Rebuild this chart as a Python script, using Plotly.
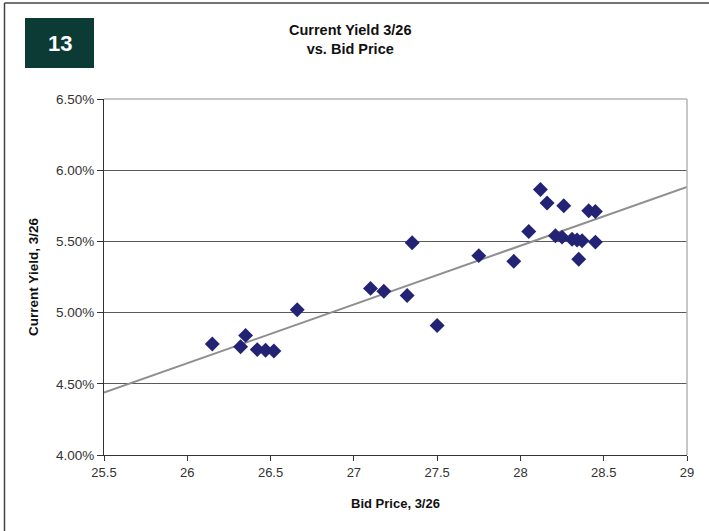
import numpy as np
import plotly.graph_objects as go

# Bid price (3/26) and current yield (3/26) for each issue
bid_price = [26.15, 26.32, 26.35, 26.42, 26.47, 26.52, 26.66, 27.10, 27.18, 27.32,
             27.35, 27.50, 27.75, 27.96, 28.05, 28.12, 28.16, 28.26, 28.21, 28.25,
             28.31, 28.34, 28.37, 28.45, 28.35, 28.41, 28.45]
current_yield = [4.78, 4.76, 4.84, 4.74, 4.735, 4.73, 5.02, 5.17, 5.15, 5.12,
                 5.49, 4.91, 5.40, 5.36, 5.57, 5.865, 5.77, 5.75, 5.54, 5.53,
                 5.515, 5.51, 5.505, 5.495, 5.375, 5.715, 5.71]
yield_frac = [v / 100 for v in current_yield]

x_ticks = [25.5, 26, 26.5, 27, 27.5, 28, 28.5, 29]
x_tick_text = ["25.5", "26", "26.5", "27", "27.5", "28", "28.5", "29"]
y_ticks = [0.04, 0.045, 0.05, 0.055, 0.06, 0.065]

title_lines = ["Current Yield 3/26", "vs. Bid Price"]
badge_text = "13"

# Least-squares linear trendline across the full axis span
slope, intercept = np.polyfit(bid_price, yield_frac, 1)
trend_x = [x_ticks[0], x_ticks[-1]]
trend_y = [slope * v + intercept for v in trend_x]

FONT = "Liberation Sans, Arial, sans-serif"

fig = go.Figure()
fig.add_trace(go.Scatter(
    x=trend_x, y=trend_y, mode="lines",
    line=dict(color="#8f8f8f", width=2), hoverinfo="skip", showlegend=False,
))
fig.add_trace(go.Scatter(
    x=bid_price, y=yield_frac, mode="markers",
    marker=dict(symbol="diamond", size=11.5, color="#232375",
                line=dict(width=0)),
    showlegend=False,
))

fig.update_layout(
    width=709, height=531,
    margin=dict(l=104, r=22, t=99, b=76),
    paper_bgcolor="white", plot_bgcolor="white",
    font=dict(family=FONT, size=13, color="#333333"),
    xaxis=dict(
        range=[25.5, 29], tickvals=x_ticks, ticktext=x_tick_text,
        showgrid=False, zeroline=False,
        showline=True, linecolor="#333333", linewidth=1,
        ticks="outside", ticklen=5, tickcolor="#333333",
        tickfont=dict(size=13, color="#333333"),
        title=dict(text="<b>Bid Price, 3/26</b>", standoff=20,
                   font=dict(size=13, color="#111111")),
    ),
    yaxis=dict(
        range=[0.04, 0.065], tickvals=y_ticks, tickformat=".2%",
        showgrid=True, gridcolor="#5a5a5a", gridwidth=1,
        zeroline=False,
        showline=True, linecolor="#333333", linewidth=1,
        ticks="outside", ticklen=6, tickcolor="#333333",
        tickfont=dict(size=13.5, color="#333333"),
        title=dict(text="<b>Current Yield, 3/26</b>", standoff=14,
                   font=dict(size=13.5, color="#111111")),
    ),
)

shapes = [
    # plot area border (top and right)
    dict(type="line", xref="paper", yref="paper", x0=0, x1=1, y0=1, y1=1,
         line=dict(color="#b4b4b4", width=1.5)),
    dict(type="line", xref="paper", yref="paper", x0=1, x1=1, y0=0, y1=1,
         line=dict(color="#b4b4b4", width=1.5)),
]
# outer frame (top and left edges) and number badge, positioned in pixels
pw, ph = 709 - 104 - 22, 531 - 99 - 76
def px(x):
    return (x - 104) / pw
def py(y):
    return (531 - 76 - y) / ph
shapes += [
    dict(type="line", xref="paper", yref="paper", x0=px(4.5), x1=px(709),
         y0=py(3), y1=py(3), line=dict(color="#444444", width=1.5)),
    dict(type="line", xref="paper", yref="paper", x0=px(4.5), x1=px(4.5),
         y0=py(3), y1=py(531), line=dict(color="#444444", width=1.5)),
    dict(type="rect", xref="paper", yref="paper", x0=px(25), x1=px(94),
         y0=py(68), y1=py(18), fillcolor="#0c3a35", line=dict(width=0)),
]
fig.update_layout(shapes=shapes)

fig.add_annotation(
    x=px(59.5), y=py(43), xref="paper", yref="paper", text=f"<b>{badge_text}</b>",
    showarrow=False, font=dict(family=FONT, size=22, color="white"),
    xanchor="center", yanchor="middle",
)
fig.add_annotation(
    x=px(350), y=py(39), xref="paper", yref="paper",
    text="<b>" + "<br>".join(title_lines) + "</b>",
    showarrow=False, font=dict(family=FONT, size=14.5, color="#111111"),
    xanchor="center", yanchor="middle", align="center",
)

fig.write_html("out.html")
